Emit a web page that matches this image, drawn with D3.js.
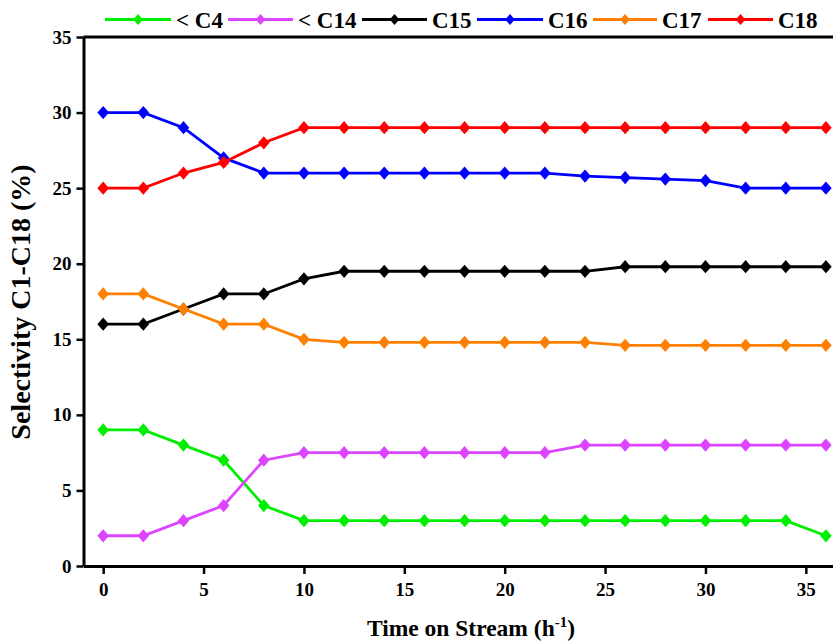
<!DOCTYPE html>
<html><head><meta charset="utf-8">
<script src="https://cdn.jsdelivr.net/npm/d3@7"></script>
<style>
body{margin:0;background:#fff;}
svg{display:block;font-family:"Liberation Serif","Times New Roman",serif;font-weight:bold;}
</style></head>
<body><svg id="c" width="833" height="641"></svg>
<script>
const times = [0,2,4,6,8,10,12,14,16,18,20,22,24,26,28,30,32,34,36];
const seriesNames = ["< C4","< C14","C15","C16","C17","C18"];
const seriesColors = ["#00ee00","#dd44ff","#000000","#0000ff","#ff8000","#ff0000"];
const c4  = [9,9,8,7,4,3,3,3,3,3,3,3,3,3,3,3,3,3,2];
const c14 = [2,2,3,4,7,7.5,7.5,7.5,7.5,7.5,7.5,7.5,8,8,8,8,8,8,8];
const c15 = [16,16,17,18,18,19,19.5,19.5,19.5,19.5,19.5,19.5,19.5,19.8,19.8,19.8,19.8,19.8,19.8];
const c16 = [30,30,29,27,26,26,26,26,26,26,26,26,25.8,25.7,25.6,25.5,25,25,25];
const c17 = [18,18,17,16,16,15,14.8,14.8,14.8,14.8,14.8,14.8,14.8,14.6,14.6,14.6,14.6,14.6,14.6];
const c18 = [25,25,26,26.7,28,29,29,29,29,29,29,29,29,29,29,29,29,29,29];
const seriesValues = [c4,c14,c15,c16,c17,c18];
const xTicks = [0,5,10,15,20,25,30,35];
const yTicks = [0,5,10,15,20,25,30,35];
const xTitle = "Time on Stream (h";
const yTitle = "Selectivity C1-C18 (%)";

const svg = d3.select("#c");
const L = 83.5, T = 37, B = 566, R = 846;
const x = d3.scaleLinear().domain([-0.98, 37.0]).range([L, R]);
const y = d3.scaleLinear().domain([0, 35]).range([B, T]);

const diamondType = { draw(ctx, size){ const h = Math.sqrt(size)/2, w = h*0.87;
  ctx.moveTo(0,-h); ctx.lineTo(w,0); ctx.lineTo(0,h); ctx.lineTo(-w,0); ctx.closePath(); } };
const marker = d3.symbol().type(diamondType).size(176);
const legMarker = d3.symbol().type(diamondType).size(121);

svg.append("line").attr("x1",L).attr("x2",R).attr("y1",T).attr("y2",T)
  .attr("stroke","#000").attr("stroke-width",3);

const xa = svg.append("g").attr("transform",`translate(0,${B})`)
  .call(d3.axisBottom(x).tickValues(xTicks).tickSizeOuter(0).tickSizeInner(8).tickPadding(9));
const ya = svg.append("g").attr("transform",`translate(${L},0)`)
  .call(d3.axisLeft(y).tickValues(yTicks).tickSizeOuter(0).tickSizeInner(7).tickPadding(5));
[xa,ya].forEach(a=>{
  a.select(".domain").attr("stroke-width",3);
  a.selectAll(".tick line").attr("stroke-width",2.5);
  a.selectAll(".tick text").attr("font-size",19).attr("font-family","Liberation Serif").attr("font-weight","bold").attr("fill","#000");
});

const line = d3.line().x((d,i)=>x(times[i])).y(d=>y(d));

seriesValues.forEach((vals,k)=>{
  const g = svg.append("g");
  g.append("path").datum(vals).attr("d",line).attr("fill","none")
    .attr("stroke",seriesColors[k]).attr("stroke-width",2.8);
  g.selectAll("path.m").data(vals).enter().append("path").attr("class","m")
    .attr("d",marker).attr("transform",(d,i)=>`translate(${x(times[i])},${y(d)})`)
    .attr("fill",seriesColors[k]);
});

const legX = [105,228,362,477,593,708];
const legLen = [66,65,65,66,64,65];
const ly = 19.5;
seriesNames.forEach((n,k)=>{
  const g = svg.append("g");
  g.append("line").attr("x1",legX[k]).attr("x2",legX[k]+legLen[k]).attr("y1",ly).attr("y2",ly)
    .attr("stroke",seriesColors[k]).attr("stroke-width",2.8);
  g.append("path").attr("d",legMarker).attr("transform",`translate(${legX[k]+legLen[k]/2},${ly})`)
    .attr("fill",seriesColors[k]);
  g.append("text").attr("x",legX[k]+legLen[k]+5).attr("y",28).attr("font-size",23).text(n);
});

const xt = svg.append("text").attr("x",471).attr("y",636).attr("text-anchor","middle").attr("font-size",23.5);
xt.append("tspan").text(xTitle);
xt.append("tspan").attr("dy",-9).attr("font-size",15).text("-1");
xt.append("tspan").attr("dy",9).text(")");
svg.append("text").attr("transform","translate(30,302) rotate(-90)").attr("text-anchor","middle")
  .attr("font-size",28).text(yTitle);
</script></body></html>
